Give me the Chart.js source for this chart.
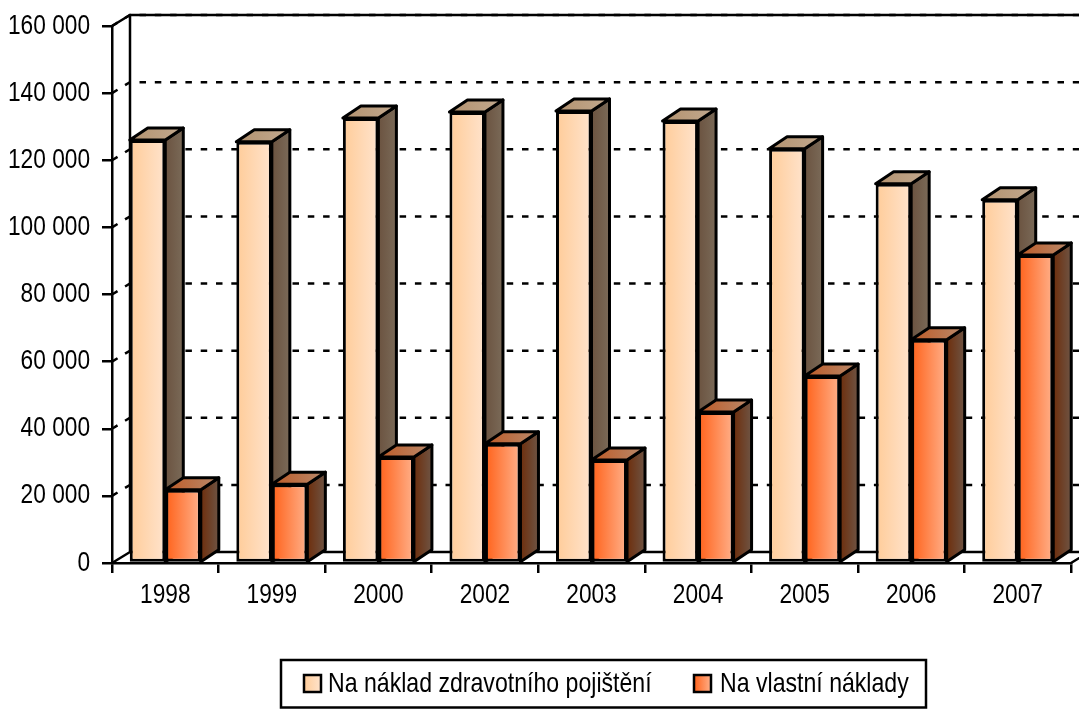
<!DOCTYPE html>
<html>
<head>
<meta charset="utf-8">
<title>Náklady</title>
<script src="https://cdn.jsdelivr.net/npm/chart.js@4/dist/chart.umd.min.js"></script>
<style>
    html, body { margin: 0; padding: 0; background: #fff; }
    canvas { display: block; }
</style>
</head>
<body>
<canvas id="costChart" width="1079" height="709"></canvas>
<script>
    const years = ['1998', '1999', '2000', '2002', '2003', '2004', '2005', '2006', '2007'];
    const insuranceValues = [126000, 125500, 132600, 134400, 134700, 131700, 123400, 113000, 108200];
    const ownValues = [21800, 23500, 31600, 35500, 30700, 45000, 55700, 66500, 91800];
    const insuranceLabel = 'Na náklad zdravotního pojištění';
    const ownLabel = 'Na vlastní náklady';

    const FONT = '"Liberation Sans", Arial, sans-serif';
    // the source picture is squeezed sideways, so all text is narrowed by this factor
    const TEXT_SQUEEZE = 0.825;

    // colours per series: front face, side face, top face (left -> right)
    const palettes = [
        { front: ['#FFCC99', '#FFE3CC'], side: ['#6B5340', '#7A6A58'], top: ['#B3926F', '#C2A98F'] },
        { front: ['#FF6119', '#FFB08A'], side: ['#6E2E0C', '#6E5444'], top: ['#BD5A26', '#B98A6C'] }
    ];

    // 3D extrusion of the bars and of the wall behind them
    const BAR_DX = 18, BAR_DY = 12;
    const WALL_DX = 18, WALL_DY = 11;

    function hGradient(ctx, x0, x1, colors) {
        const g = ctx.createLinearGradient(x0, 0, x1, 0);
        g.addColorStop(0, colors[0]);
        g.addColorStop(1, colors[1]);
        return g;
    }

    function frontFill(context) {
        const chart = context.chart;
        const pal = palettes[context.datasetIndex];
        const xScale = chart.scales.x;
        // scales have no size yet on the first resolve
        if (!chart.chartArea || !xScale || !xScale.width) return pal.front[0];
        const barW = xScale.width / years.length / 3;
        const center = xScale.getPixelForValue(context.dataIndex);
        const left = center - barW + context.datasetIndex * barW;
        return hGradient(chart.ctx, left, left + barW, pal.front);
    }

    function face(ctx, points, fill) {
        ctx.beginPath();
        points.forEach((p, i) => i ? ctx.lineTo(p[0], p[1]) : ctx.moveTo(p[0], p[1]));
        ctx.closePath();
        ctx.fillStyle = fill;
        ctx.fill();
        ctx.stroke();
    }

    function squeezedText(ctx, text, x, y, align) {
        ctx.save();
        ctx.translate(x, y);
        ctx.scale(TEXT_SQUEEZE, 1);
        ctx.textAlign = align;
        ctx.textBaseline = 'middle';
        ctx.fillStyle = '#000';
        ctx.fillText(text, 0, 0);
        ctx.restore();
    }

    const wallPlugin = {
        id: 'wall',
        beforeDatasetsDraw(chart) {
            const ctx = chart.ctx;
            const { left, right, top, bottom } = chart.chartArea;
            const y = chart.scales.y;
            ctx.save();
            ctx.strokeStyle = '#000';
            ctx.lineWidth = 2.5;

            // wall edges and floor
            ctx.beginPath();
            ctx.moveTo(left, top);
            ctx.lineTo(left + WALL_DX, top - WALL_DY);
            ctx.lineTo(chart.width + 10, top - WALL_DY);
            ctx.moveTo(left + WALL_DX, top - WALL_DY);
            ctx.lineTo(left + WALL_DX, bottom - WALL_DY);
            ctx.lineTo(chart.width + 10, bottom - WALL_DY);
            ctx.moveTo(left, bottom);
            ctx.lineTo(left + WALL_DX, bottom - WALL_DY);
            ctx.moveTo(right, bottom);
            ctx.lineTo(right + WALL_DX, bottom - WALL_DY);
            ctx.stroke();

            // dotted grid lines, running up the side wall then along the back
            ctx.lineWidth = 2.5;
            ctx.setLineDash([6.5, 8.8]);
            y.ticks.forEach(t => {
                if (t.value === 0) return;
                const py = y.getPixelForValue(t.value);
                ctx.beginPath();
                ctx.moveTo(left, py);
                ctx.lineTo(left + WALL_DX, py - WALL_DY);
                ctx.lineTo(chart.width + 10, py - WALL_DY);
                ctx.stroke();
            });
            ctx.setLineDash([]);

            // side and top faces of the bars
            ctx.lineWidth = 3;
            ctx.lineJoin = 'round';
            chart.data.datasets.forEach((ds, di) => {
                const pal = palettes[di];
                chart.getDatasetMeta(di).data.forEach(bar => {
                    const r = bar.x + bar.width / 2;
                    const l = bar.x - bar.width / 2;
                    face(ctx, [[r, bar.y], [r + BAR_DX, bar.y - BAR_DY], [r + BAR_DX, bar.base - BAR_DY], [r, bar.base]],
                        hGradient(ctx, r, r + BAR_DX, pal.side));
                    face(ctx, [[l, bar.y], [l + BAR_DX, bar.y - BAR_DY], [r + BAR_DX, bar.y - BAR_DY], [r, bar.y]],
                        hGradient(ctx, l, r + BAR_DX, pal.top));
                });
            });
            ctx.restore();
        }
    };

    // axis labels and legend box, with the narrowed text
    const textPlugin = {
        id: 'squeezedText',
        afterDraw(chart) {
            const ctx = chart.ctx;
            const { x, y } = chart.scales;
            ctx.save();
            ctx.font = '27.5px ' + FONT;
            y.ticks.forEach((t, i) => squeezedText(ctx, t.label, 90, y.getPixelForTick(i), 'right'));
            x.ticks.forEach((t, i) => squeezedText(ctx, t.label, x.getPixelForTick(i), 595, 'center'));

            ctx.strokeStyle = '#000';
            ctx.lineWidth = 2.5;
            ctx.strokeRect(281, 660, 645, 47.5);

            ctx.font = '28px ' + FONT;
            const items = [{ box: 304, text: 328 }, { box: 694, text: 720 }];
            chart.data.datasets.forEach((ds, i) => {
                const it = items[i];
                ctx.fillStyle = hGradient(ctx, it.box, it.box + 17, palettes[i].front);
                ctx.fillRect(it.box, 675, 17, 17);
                ctx.strokeRect(it.box, 675, 17, 17);
                squeezedText(ctx, ds.label, it.text, 684, 'left');
            });
            ctx.restore();
        }
    };

    new Chart(document.getElementById('costChart'), {
        type: 'bar',
        data: {
            labels: years,
            datasets: [
                { label: insuranceLabel, data: insuranceValues, backgroundColor: frontFill },
                { label: ownLabel, data: ownValues, backgroundColor: frontFill }
            ]
        },
        options: {
            responsive: false,
            animation: false,
            events: [],
            layout: { padding: { top: 26, right: 8, left: 0, bottom: 0 } },
            datasets: {
                bar: {
                    barPercentage: 1,
                    categoryPercentage: 2 / 3,
                    borderColor: '#000',
                    borderWidth: 3,
                    borderSkipped: false
                }
            },
            plugins: {
                colors: { enabled: false },
                legend: { display: false },
                tooltip: { enabled: false }
            },
            scales: {
                x: {
                    afterFit: s => { s.height = 146; },
                    border: { color: '#000', width: 2.5 },
                    grid: { drawOnChartArea: false, color: '#000', lineWidth: 2.5, tickLength: 10 },
                    ticks: { display: false, maxRotation: 0 }
                },
                y: {
                    min: 0,
                    max: 160000,
                    afterFit: s => { s.width = 112; },
                    border: { color: '#000', width: 2.5 },
                    grid: { drawOnChartArea: false, color: '#000', lineWidth: 2.5, tickLength: 10 },
                    ticks: {
                        display: false,
                        stepSize: 20000,
                        callback: v => v === 0 ? '0' : Math.floor(v / 1000) + ' 000'
                    }
                }
            }
        },
        plugins: [wallPlugin, textPlugin]
    });
</script>
</body>
</html>
